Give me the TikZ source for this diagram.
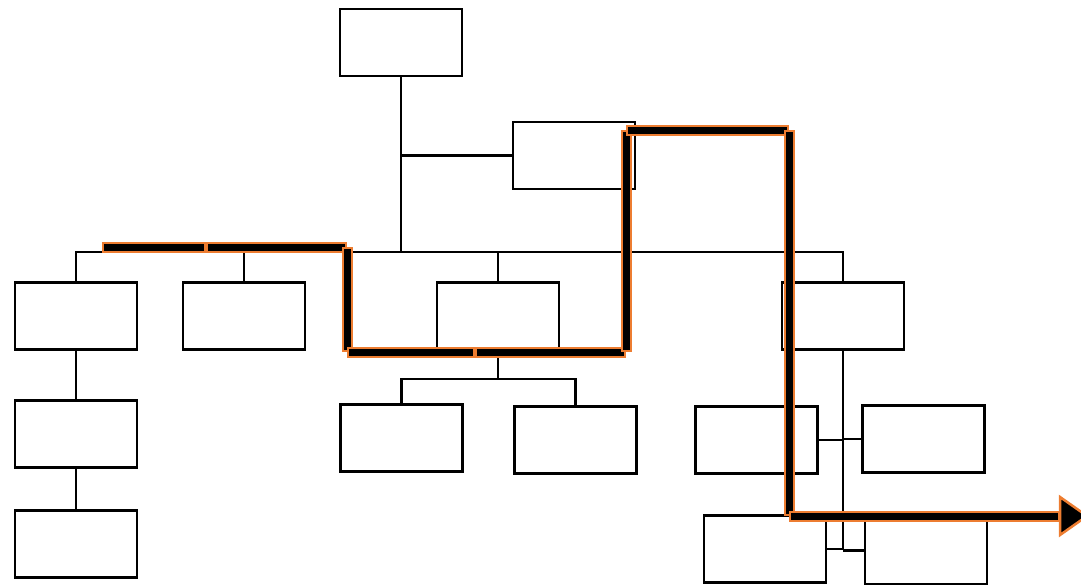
\documentclass[tikz,border=0pt]{standalone}
\usetikzlibrary{calc}
\definecolor{hlorange}{RGB}{237,125,49}
\begin{document}
\begin{tikzpicture}[x=1pt,y=-1pt,
  box/.style={draw=black,line width=2.8pt,fill=white,minimum width=122pt,minimum height=67pt,inner sep=0pt,outer sep=0pt},
  conn/.style={draw=black,line width=2.8pt},
  hlout/.style={draw=hlorange,line width=11pt},
  hlin/.style={draw=black,line width=7pt}]
\useasboundingbox (0,0) rectangle (1081,584);
% nodes
\node[box] (top) at (401,42.5) {};
\node[box] (n2) at (574,155.5) {};
\node[box] (A) at (76,316) {};
\node[box] (B) at (244,316) {};
\node[box] (C) at (498,316) {};
\node[box] (D) at (843,316) {};
\node[box] (A2) at (76,434) {};
\node[box] (A3) at (76,544) {};
\node[box] (C1) at (401.5,438) {};
\node[box] (C2) at (575.5,440) {};
\node[box] (D1) at (756.5,440) {};
\node[box] (D2) at (923.5,439) {};
\node[box] (D3) at (765,549) {};
\node[box] (D4) at (926,550.5) {};
% bus coordinates
\coordinate (busL) at (76,252);
\coordinate (busR) at (843,252);
\coordinate (cbus) at (498,379);
\coordinate (dend) at (843,549);
% connectors
\draw[conn] (top.south) -- (top.south |- busL);
\draw[conn] (top.south |- n2.west) -- (n2.west);
\draw[conn] (A.north) -- (busL) -- (busR) -- (D.north);
\draw[conn] (B.north) -- (B.north |- busL);
\draw[conn] (C.north) -- (C.north |- busL);
\draw[conn] (A.south) -- (A2.north);
\draw[conn] (A2.south) -- (A3.north);
\draw[conn] (C.south) -- (cbus);
\draw[conn] (C1.north) -- (C1.north |- cbus) -- (C2.north |- cbus) -- (C2.north);
\draw[conn] (D.south) -- (dend);
\draw[conn] (D1.east) -- (D1.east -| dend);
\draw[conn] (D2.west) -- (D2.west -| dend);
\draw[conn] (D3.east) -- (D3.east -| dend);
\draw[conn] (D4.west) -- (D4.west -| dend);
% highlighted route
\coordinate (h1) at (102,247);
\coordinate (h2) at (206,247);
\coordinate (h3) at (347,247);
\coordinate (h4) at (347,352);
\coordinate (h5) at (475,352);
\coordinate (h6) at (626,352);
\coordinate (h7) at (626,130);
\coordinate (h8) at (789,130);
\coordinate (h9) at (789,516);
\coordinate (h10) at (1060,516);
\foreach \a/\b in {h1/h2,h2/h3,h3/h4,h4/h5,h5/h6,h6/h7,h7/h8,h8/h9,h9/h10}{
  \draw[hlout] (\a) -- (\b);
  \draw[hlin] ($(\a)!2pt!(\b)$) -- ($(\b)!2pt!(\a)$);
}
\coordinate (tipA) at (1060,497);
\coordinate (tipB) at (1087,516);
\coordinate (tipC) at (1060,535);
\draw[hlorange,line width=2.5pt,fill=black,line join=miter] (tipA) -- (tipB) -- (tipC) -- cycle;
\end{tikzpicture}
\end{document}
